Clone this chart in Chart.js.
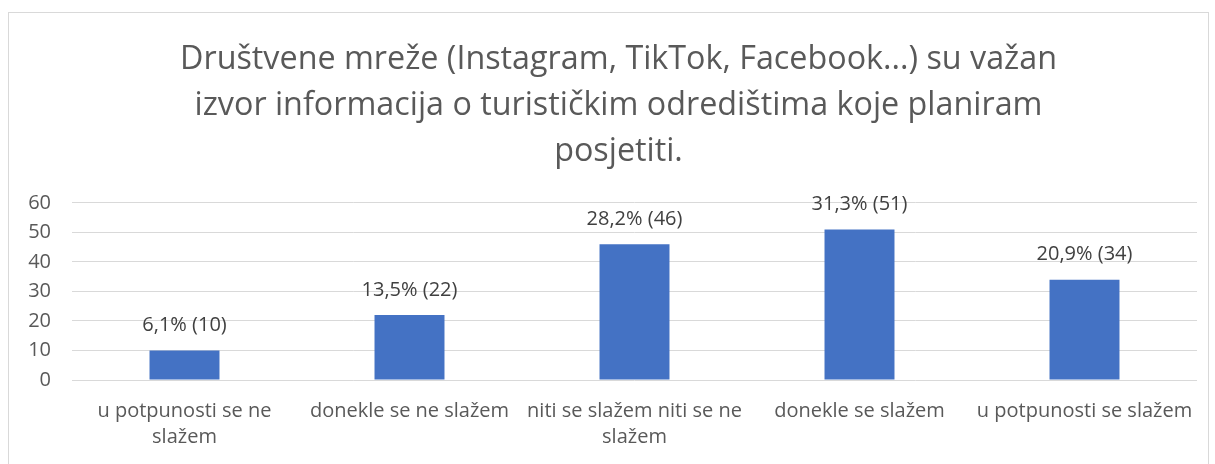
<!DOCTYPE html>
<html>
<head>
<meta charset="utf-8">
<script src="https://cdn.jsdelivr.net/npm/chart.js@4.4.1/dist/chart.umd.min.js"></script>
<style>
html,body{margin:0;padding:0;background:#fff;}
#wrap{position:relative;width:1215px;height:464px;overflow:hidden;}
#frame{position:absolute;left:8px;top:12px;width:1201px;height:470px;border:1px solid #d9d9d9;box-sizing:border-box;}
canvas{position:absolute;left:0;top:0;}
</style>
</head>
<body>
<div id="wrap">
<div id="frame"></div>
<canvas id="c" width="1215" height="464"></canvas>
</div>
<script>
const titleLines = ["Društvene mreže (Instagram, TikTok, Facebook...) su važan", "izvor informacija o turističkim odredištima koje planiram", "posjetiti."];
const categories = [["u potpunosti se ne", "slažem"], "donekle se ne slažem", ["niti se slažem niti se ne", "slažem"], "donekle se slažem", "u potpunosti se slažem"];
const counts = [10, 22, 46, 51, 34];
const percentLabels = ["6,1%", "13,5%", "28,2%", "31,3%", "20,9%"];
const yTicks = [0, 10, 20, 30, 40, 50, 60];

const FONT = "'Open Sans', sans-serif";

const dataLabelPlugin = {
  id: 'dataLabels',
  afterLayout(chart) {
    const t = chart.titleBlock;
    if (t) { t.left += 20; }
  },
  afterDatasetsDraw(chart) {
    const ctx = chart.ctx;
    const meta = chart.getDatasetMeta(0);
    ctx.save();
    ctx.font = "20px " + FONT;
    ctx.fillStyle = "#404040";
    ctx.textAlign = "center";
    ctx.textBaseline = "middle";
    meta.data.forEach((bar, i) => {
      ctx.fillText(percentLabels[i] + " (" + counts[i] + ")", bar.x, bar.y - 25);
    });
    ctx.restore();
  }
};

new Chart(document.getElementById('c'), {
  type: 'bar',
  data: {
    labels: categories,
    datasets: [{
      data: counts,
      backgroundColor: '#4472c4',
      borderWidth: 0,
      categoryPercentage: 1,
      barPercentage: 0.311
    }]
  },
  options: {
    responsive: false,
    animation: false,
    layout: { padding: { left: 20, right: 18, top: 14, bottom: 0 } },
    plugins: {
      legend: { display: false },
      tooltip: { enabled: false },
      title: {
        display: true,
        text: titleLines,
        color: '#595959',
        font: { family: FONT, size: 32.3, weight: 'normal', lineHeight: 1.424 },
        padding: { top: 23, bottom: 28 }
      }
    },
    scales: {
      x: {
        grid: { display: false, drawTicks: false },
        border: { display: false },
        ticks: {
          color: '#595959',
          font: { family: FONT, size: 20, lineHeight: 1.3 },
          padding: 18,
          maxRotation: 0,
          autoSkip: false
        },
        afterFit(scale) { scale.height = 84; }
      },
      y: {
        min: yTicks[0],
        max: yTicks[yTicks.length - 1],
        grid: { color: '#d9d9d9', lineWidth: 1, drawTicks: false },
        border: { display: false },
        ticks: {
          stepSize: 10,
          color: '#595959',
          font: { family: FONT, size: 20 },
          padding: 21
        },
        afterFit(scale) { scale.width = 52; }
      }
    }
  },
  plugins: [dataLabelPlugin]
});
</script>
</body>
</html>
